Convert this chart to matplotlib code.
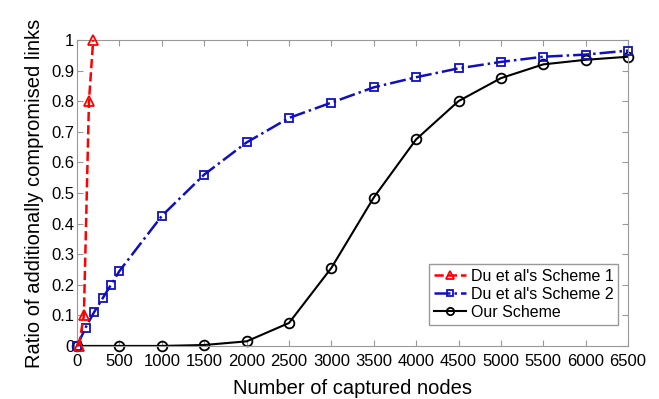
import matplotlib.pyplot as plt
import numpy as np

plt.rcParams['font.family'] = ['Liberation Sans', 'DejaVu Sans']

# data
x_s1 = [20, 80, 140, 190]
y_s1 = [0.0, 0.1, 0.8, 1.0]

x_s2 = [0, 100, 200, 300, 400, 500, 1000, 1500, 2000, 2500, 3000,
        3500, 4000, 4500, 5000, 5500, 6000, 6500]
y_s2 = [0.0, 0.06, 0.11, 0.155, 0.2, 0.245, 0.425, 0.56, 0.665, 0.745,
        0.795, 0.845, 0.878, 0.907, 0.928, 0.945, 0.952, 0.965]

x_ours = [0, 500, 1000, 1500, 2000, 2500, 3000, 3500, 4000, 4500,
          5000, 5500, 6000, 6500]
y_ours = [0.0, 0.0, 0.0, 0.003, 0.015, 0.075, 0.255, 0.485, 0.675,
          0.80, 0.875, 0.92, 0.935, 0.945]

labels = ["Du et al's Scheme 1", "Du et al's Scheme 2", "Our Scheme"]
xticks = np.arange(0, 6501, 500)
yticks = np.arange(0, 1.01, 0.1)

fig = plt.figure(figsize=(6.59, 3.99), dpi=100)
ax = fig.add_axes([0.117, 0.133, 0.836, 0.767])

ax.plot(x_s1, y_s1, '--', color='red', marker='^', markersize=7,
        markerfacecolor='none', markeredgewidth=1.3, linewidth=1.8,
        label=labels[0], clip_on=False, zorder=4)
ax.plot(x_s2, y_s2, '-.', color='#1010c0', marker='s', markersize=6,
        markerfacecolor='none', markeredgewidth=1.3, linewidth=1.8,
        label=labels[1], clip_on=False, zorder=3)
ax.plot(x_ours, y_ours, '-', color='black', marker='o', markersize=7,
        markerfacecolor='none', markeredgewidth=1.3, linewidth=1.5,
        label=labels[2], clip_on=False, zorder=2)

ax.set_xlim(0, 6500)
ax.set_ylim(0, 1)
ax.set_xticks(xticks)
ax.set_yticks(yticks)
ax.set_yticklabels(['0'] + ['%.1f' % v for v in yticks[1:-1]] + ['1'])
ax.tick_params(direction='in', top=True, right=True, labelsize=12,
               color='#999999', length=4)
ax.tick_params(axis='x', pad=6)
ax.tick_params(axis='y', pad=2)
for s in ax.spines.values():
    s.set_color('#999999')
    s.set_linewidth(0.8)

ax.set_xlabel('Number of captured nodes', fontsize=14.5, labelpad=7)
ax.set_ylabel('Ratio of additionally compromised links', fontsize=14.5, labelpad=5)

leg = ax.legend(loc='lower right', bbox_to_anchor=(0.982, 0.069), borderaxespad=0,
                fontsize=11.5, fancybox=False, framealpha=1, edgecolor='#999999',
                handlelength=2.0, handletextpad=0.3, borderpad=0.3,
                labelspacing=0.2, markerscale=0.75)

fig.savefig('out.png', dpi=100)
